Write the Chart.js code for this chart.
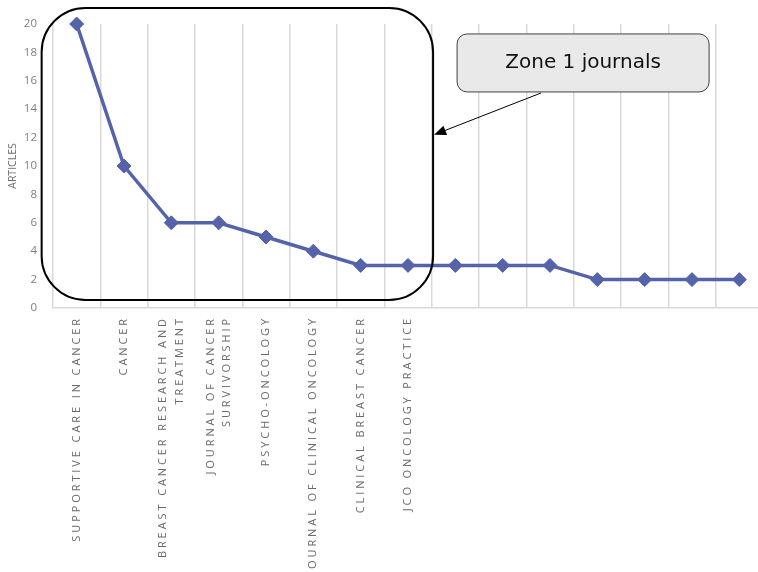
<!DOCTYPE html>
<html>
<head>
<meta charset="utf-8">
<script src="https://cdn.jsdelivr.net/npm/chart.js@4.4.1/dist/chart.umd.min.js"></script>
<style>
  html, body { margin: 0; padding: 0; background: #fff; overflow: hidden; }
  #wrap { width: 771px; height: 572px; }
</style>
</head>
<body>
<div id="wrap"><canvas id="cJournals"></canvas></div>
<script>
// ── Datos: revistas por número de artículos ──────────────────
const JOURNALS = [
  'SUPPORTIVE CARE IN CANCER',
  'CANCER',
  ['BREAST CANCER RESEARCH AND', 'TREATMENT'],
  ['JOURNAL OF CANCER', 'SURVIVORSHIP'],
  'PSYCHO-ONCOLOGY',
  'JOURNAL OF CLINICAL ONCOLOGY',
  'CLINICAL BREAST CANCER',
  'JCO ONCOLOGY PRACTICE',
  '', '', '', '', '', '', ''
];
const ARTICLES = [20, 10, 6, 6, 5, 4, 3, 3, 3, 3, 3, 2, 2, 2, 2];
const Y_TICKS = [0, 2, 4, 6, 8, 10, 12, 14, 16, 18, 20];
const CALLOUT = 'Zone 1 journals';
const ZONE_LAST = 7; // última revista dentro de la zona 1

const GREY = '#6b6b6b';
const GREY_Y = '#7f7f7f';
const GRID = '#d9d9d9';
const LINE = '#5563aa';

// ── Etiquetas X con espaciado de letras y líneas centradas ───
const spacedLabels = {
  id: 'spacedLabels',
  afterLayout(chart) {
    const s = chart.scales.x;
    if (s._wrapped) return;
    const orig = s.drawLabels.bind(s);
    s.drawLabels = function (area) {
      const items = s.getLabelItems(area);
      items.forEach(it => {
        if (Array.isArray(it.label) && !it._adj) {
          it.textOffset -= (it.label.length - 1) * it.font.lineHeight / 2;
          it._adj = true;
        }
      });
      chart.ctx.save();
      chart.ctx.letterSpacing = '2.9px';
      orig(area);
      chart.ctx.restore();
    };
    s._wrapped = true;
  }
};

// ── Zona 1 (rectángulo redondeado) + nota con flecha ─────────
const zoneNote = {
  id: 'zoneNote',
  afterDatasetsDraw(chart) {
    const { ctx, scales: { x, y } } = chart;
    const step = x.getPixelForValue(1) - x.getPixelForValue(0);
    const l = x.getPixelForValue(0) - step * 0.74;
    const r = x.getPixelForValue(ZONE_LAST) + step * 0.53;
    const t = y.getPixelForValue(20) - 16;
    const b = y.getPixelForValue(0) - 8;

    ctx.save();
    ctx.strokeStyle = '#000';
    ctx.lineWidth = 2;
    ctx.beginPath();
    ctx.roundRect(l, t, r - l, b - t, 44);
    ctx.stroke();

    // caja de la nota
    const bx = r + 24, by = y.getPixelForValue(19.3), bw = 252, bh = 58;
    ctx.fillStyle = '#e9e9e9';
    ctx.strokeStyle = '#404040';
    ctx.lineWidth = 1;
    ctx.beginPath();
    ctx.roundRect(bx, by, bw, bh, 10);
    ctx.fill();
    ctx.stroke();

    ctx.fillStyle = '#111';
    ctx.font = '20px "DejaVu Sans", sans-serif';
    ctx.textAlign = 'center';
    ctx.textBaseline = 'middle';
    ctx.fillText(CALLOUT, bx + bw / 2, by + bh / 2);

    // flecha hacia la zona
    const x0 = bx + 84, y0 = by + bh + 1;
    const x1 = r + 1, y1 = y.getPixelForValue(12.2);
    const ang = Math.atan2(y1 - y0, x1 - x0);
    ctx.strokeStyle = '#000';
    ctx.beginPath();
    ctx.moveTo(x0, y0);
    ctx.lineTo(x1 - 9 * Math.cos(ang), y1 - 9 * Math.sin(ang));
    ctx.stroke();
    ctx.fillStyle = '#000';
    ctx.beginPath();
    ctx.moveTo(x1, y1);
    ctx.lineTo(x1 - 12 * Math.cos(ang) + 5 * Math.sin(ang), y1 - 12 * Math.sin(ang) - 5 * Math.cos(ang));
    ctx.lineTo(x1 - 12 * Math.cos(ang) - 5 * Math.sin(ang), y1 - 12 * Math.sin(ang) + 5 * Math.cos(ang));
    ctx.closePath();
    ctx.fill();
    ctx.restore();
  }
};

new Chart(document.getElementById('cJournals').getContext('2d'), {
  type: 'line',
  data: {
    labels: JOURNALS,
    datasets: [{
      data: ARTICLES, clip: false,
      borderColor: LINE, backgroundColor: LINE,
      borderWidth: 3.5, tension: 0,
      pointStyle: 'rectRot', pointRadius: 7, pointHoverRadius: 7,
      pointBackgroundColor: LINE, pointBorderColor: LINE, pointBorderWidth: 1
    }]
  },
  options: {
    responsive: true, maintainAspectRatio: false, animation: false,
    layout: { padding: { top: 24, right: 0, left: 0, bottom: 0 } },
    plugins: { legend: { display: false }, tooltip: { enabled: false } },
    scales: {
      x: {
        offset: true,
        grid: { display: true, offset: true, color: GRID, lineWidth: 1.5, drawTicks: false },
        border: { display: true, color: GRID, width: 1.5 },
        ticks: {
          autoSkip: false, minRotation: 90, maxRotation: 90, padding: 8,
          color: GREY, font: { family: '"Open Sans", sans-serif', size: 11, lineHeight: 1.5 }
        },
        afterFit: s => { s.height = 264; }
      },
      y: {
        min: 0, max: 20,
        afterBuildTicks: s => { s.ticks = Y_TICKS.map(v => ({ value: v })); },
        grid: { display: false, drawTicks: false },
        border: { display: false },
        ticks: { color: GREY_Y, padding: 16, font: { family: '"Open Sans", sans-serif', size: 11.5 } },
        title: {
          display: true, text: 'ARTICLES', color: GREY,
          font: { family: '"Open Sans", sans-serif', size: 10.5 }, padding: { top: 7, bottom: 0 }
        },
        afterFit: s => { s.width = 53; }
      }
    }
  },
  plugins: [spacedLabels, zoneNote]
});
</script>
</body>
</html>
